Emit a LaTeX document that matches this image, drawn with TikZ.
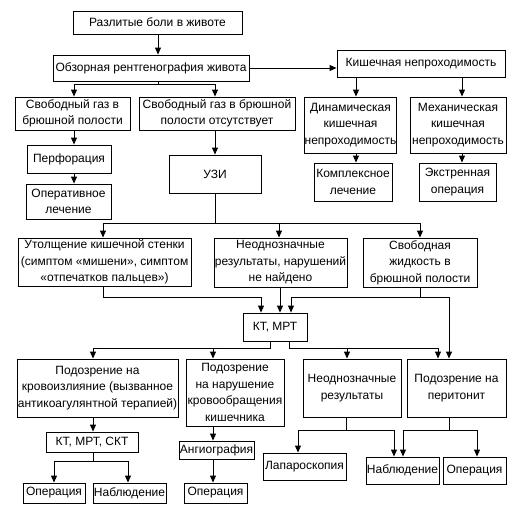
\documentclass[tikz,border=0pt]{standalone}
\usepackage{fontspec}
\setmainfont{Liberation Sans}
\usetikzlibrary{arrows.meta}
\begin{document}
\begin{tikzpicture}[x=1pt,y=-1pt,
  box/.style={draw, line width=0.9pt, inner sep=0pt, align=center,
    font=\fontsize{12}{16.5}\selectfont},
  sz/.style 2 args={minimum width=#1pt, minimum height=#2pt},
  ln/.style={line width=0.9pt},
  arr/.style={ln, -{Triangle[length=7pt,width=6pt]}}]
\fill[white] (0,0) rectangle (531,515);
\useasboundingbox (0,0) rectangle (531,515);
% nodes
\node[box,sz={169}{23}] (n1) at (157.5,22.5) {Разлитые боли в животе};
\node[box,sz={196}{26}] (n2) at (151,68) {Обзорная рентгенография живота};
\node[box,sz={168}{27}] (n3) at (421,63.5) {Кишечная непроходимость};
\node[box,sz={115}{33}] (n4) at (72.5,113.5) {Свободный газ в\\брюшной полости};
\node[box,sz={156}{33}] (n5) at (217,113.5) {Свободный газ в брюшной\\полости отсутствует};
\node[box,sz={89}{56}] (n6) at (350.5,125) {Динамическая\\кишечная\\непроходимость};
\node[box,sz={96}{56}] (n7) at (458,125) {Механическая\\кишечная\\непроходимость};
\node[box,sz={78}{38}] (n8) at (353,182) {Комплексное\\лечение};
\node[box,sz={77}{38}] (n9) at (457.5,182) {Экстренная\\операция};
\node[box,sz={84}{28}] (n10) at (69,159) {Перфорация};
\node[box,sz={85}{35}] (n11) at (68.5,201.5) {Оперативное\\лечение};
\node[box,sz={92}{38}] (n12) at (215,174) {УЗИ};
\node[box,sz={173}{48}] (n13) at (104.5,262) {Утолщение кишечной стенки\\(симптом «мишени», симптом\\«отпечатков пальцев»)};
\node[box,sz={133}{49}] (n14) at (280.5,262.5) {Неоднозначные\\результаты, нарушений\\не найдено};
\node[box,sz={114}{49}] (n15) at (420,262.5) {Свободная\\жидкость в\\брюшной полости};
\node[box,sz={64}{28}] (n16) at (275,327) {КТ, МРТ};
\node[box,sz={161}{58}] (n17) at (97.5,388) {Подозрение на\\кровоизлияние (вызванное\\антикоагулянтной терапией)};
\node[box,sz={98}{67}] (n18) at (235,392.5) {Подозрение\\на нарушение\\кровообращения\\кишечника};
\node[box,sz={98}{58}] (n19) at (352,388) {Неоднозначные\\результаты};
\node[box,sz={99}{58}] (n20) at (456.5,388) {Подозрение на\\перитонит};
\node[box,sz={92}{20}] (n21) at (92,442) {КТ, МРТ, СКТ};
\node[box,sz={62}{20}] (n22) at (54,493) {Операция};
\node[box,sz={73}{20}] (n23) at (129.5,493) {Наблюдение};
\node[box,sz={75}{18}] (n24) at (216.5,450) {Ангиография};
\node[box,sz={63}{20}] (n25) at (215.5,493) {Операция};
\node[box,sz={83}{27}] (n26) at (304.5,466.5) {Лапароскопия};
\node[box,sz={73}{27}] (n27) at (402.5,470.5) {Наблюдение};
\node[box,sz={63}{27}] (n28) at (474.5,470.5) {Операция};
% junction coordinates
\coordinate (j2) at (158,84);
\coordinate (a4) at (74,84);
\coordinate (a5) at (215,84);
\coordinate (a6) at (356,0);
\coordinate (a7) at (462,0);
\coordinate (j12) at (215,223);
\coordinate (a13) at (103,223);
\coordinate (a14) at (279,223);
\coordinate (a15) at (420,223);
\coordinate (k13) at (103,297);
\coordinate (k13b) at (261,297);
\coordinate (k14) at (280,0);
\coordinate (k15) at (420,297);
\coordinate (k15a) at (291,297);
\coordinate (k15b) at (449,297);
\coordinate (m1) at (270,348);
\coordinate (m1a) at (93,348);
\coordinate (m1b) at (213,348);
\coordinate (m2) at (289,348);
\coordinate (m2a) at (347,348);
\coordinate (m2b) at (438,348);
\coordinate (p1) at (93,461);
\coordinate (p1a) at (54,461);
\coordinate (p1b) at (128,461);
\coordinate (q1) at (346,430);
\coordinate (q1a) at (298,430);
\coordinate (q1b) at (394,430);
\coordinate (q2) at (449,430);
\coordinate (q2a) at (403,430);
\coordinate (q2b) at (477,430);
% connectors
\draw[arr] (n1.south -| j2) -- (j2 |- n2.north);
\draw[arr] (n2.east) -- (n2.east -| n3.west);
\draw[ln] (n2.south -| j2) -- (j2);
\draw[ln] (a4) -- (a5);
\draw[arr] (a4) -- (a4 |- n4.north);
\draw[arr] (a5) -- (a5 |- n5.north);
\draw[arr] (n4.south -| a4) -- (a4 |- n10.north);
\draw[arr] (n10.south -| a4) -- (a4 |- n11.north);
\draw[arr] (n5.south -| a5) -- (a5 |- n12.north);
\draw[arr] (n3.south -| a6) -- (a6 |- n6.north);
\draw[arr] (n3.south -| a7) -- (a7 |- n7.north);
\draw[arr] (n6.south -| a6) -- (a6 |- n8.north);
\draw[arr] (n7.south -| a7) -- (a7 |- n9.north);
\draw[ln] (n12.south -| j12) -- (j12);
\draw[ln] (a13) -- (a15);
\draw[arr] (a13) -- (a13 |- n13.north);
\draw[arr] (a14) -- (a14 |- n14.north);
\draw[arr] (a15) -- (a15 |- n15.north);
\draw[ln] (n13.south -| k13) -- (k13) -- (k13b);
\draw[arr] (k13b) -- (k13b |- n16.north);
\draw[arr] (n14.south -| k14) -- (k14 |- n16.north);
\draw[ln] (n15.south -| k15) -- (k15);
\draw[ln] (k15a) -- (k15b);
\draw[arr] (k15a) -- (k15a |- n16.north);
\draw[arr] (k15b) -- (k15b |- n20.north);
\draw[ln] (n16.south -| m1) -- (m1) -- (m1a);
\draw[arr] (m1a) -- (m1a |- n17.north);
\draw[arr] (m1b) -- (m1b |- n18.north);
\draw[ln] (n16.south -| m2) -- (m2) -- (m2b);
\draw[arr] (m2a) -- (m2a |- n19.north);
\draw[arr] (m2b) -- (m2b |- n20.north);
\draw[arr] (n17.south -| p1) -- (p1 |- n21.north);
\draw[ln] (n21.south -| p1) -- (p1);
\draw[ln] (p1a) -- (p1b);
\draw[arr] (p1a) -- (p1a |- n22.north);
\draw[arr] (p1b) -- (p1b |- n23.north);
\draw[arr] (n18.south -| m1b) -- (m1b |- n24.north);
\draw[arr] (n24.south -| m1b) -- (m1b |- n25.north);
\draw[ln] (n19.south -| q1) -- (q1);
\draw[ln] (q1a) -- (q1b);
\draw[arr] (q1a) -- (q1a |- n26.north);
\draw[arr] (q1b) -- (q1b |- n27.north);
\draw[ln] (n20.south -| q2) -- (q2);
\draw[ln] (q2a) -- (q2b);
\draw[arr] (q2a) -- (q2a |- n27.north);
\draw[arr] (q2b) -- (q2b |- n28.north);
\end{tikzpicture}
\end{document}
